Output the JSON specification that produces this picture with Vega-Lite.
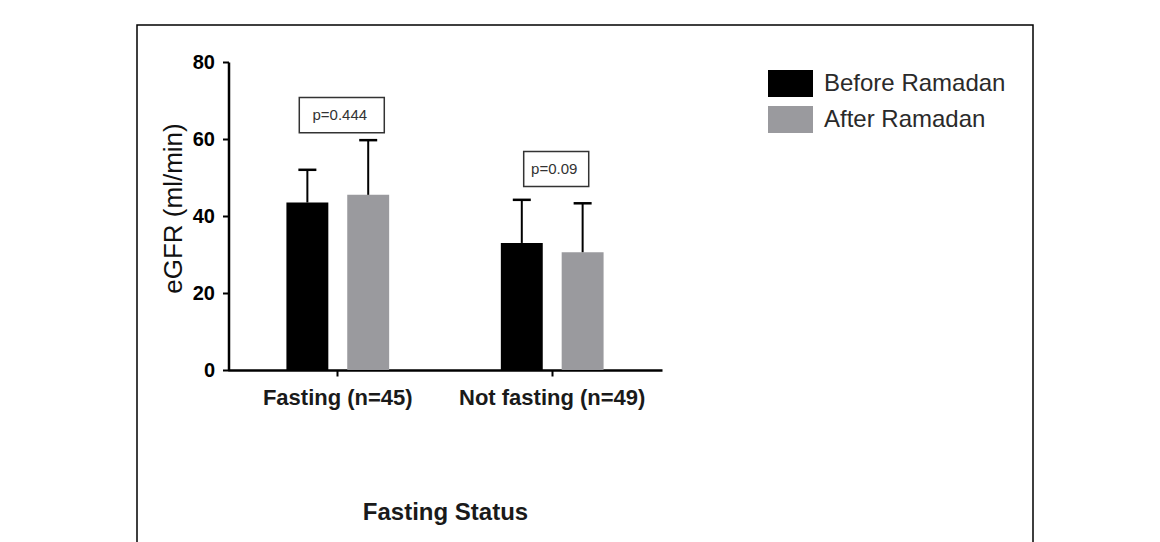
{
  "$schema": "https://vega.github.io/schema/vega-lite/v6.json",
  "autosize": "none",
  "padding": {"left": 137, "top": 25, "right": 127, "bottom": -4},
  "width": 896,
  "height": 521,
  "background": "white",
  "datasets": {
    "bars": [
      {"status": "Fasting (n=45)", "period": "Before Ramadan", "mean": 43.5, "upper": 52.0},
      {"status": "Fasting (n=45)", "period": "After Ramadan", "mean": 45.5, "upper": 59.7},
      {"status": "Not fasting (n=49)", "period": "Before Ramadan", "mean": 33.0, "upper": 44.2},
      {"status": "Not fasting (n=49)", "period": "After Ramadan", "mean": 30.6, "upper": 43.3}
    ],
    "pvals": [
      {"status": "Fasting (n=45)", "y": 66.2, "label": "p=0.444"},
      {"status": "Not fasting (n=49)", "y": 52.2, "label": "p=0.09"}
    ]
  },
  "encoding": {
    "x": {
      "field": "status",
      "type": "nominal",
      "sort": ["Fasting (n=45)", "Not fasting (n=49)"],
      "scale": {"range": [91, 525], "paddingInner": 0, "paddingOuter": 0.012},
      "axis": {
        "orient": "bottom",
        "offset": -176,
        "title": "Fasting Status",
        "labelAngle": 0,
        "labelLimit": 400,
        "labelFont": "Liberation Sans",
        "labelFontWeight": "bold",
        "labelFontSize": 22,
        "labelColor": "#1a1a1a",
        "labelPadding": 11,
        "tickSize": 6,
        "tickWidth": 2,
        "tickColor": "black",
        "domainColor": "black",
        "domainWidth": 2.5,
        "titleFont": "Liberation Sans",
        "titleFontWeight": "bold",
        "titleFontSize": 24,
        "titleColor": "#1a1a1a",
        "titleBaseline": "middle",
        "titleY": 142,
        "grid": false
      }
    }
  },
  "layer": [
    {
      "data": {"name": "bars"},
      "mark": {"type": "bar"},
      "encoding": {
        "xOffset": {
          "field": "period",
          "type": "nominal",
          "sort": ["Before Ramadan", "After Ramadan"],
          "scale": {"paddingInner": 0.311, "paddingOuter": 0.918}
        },
        "y": {
          "field": "mean",
          "type": "quantitative",
          "scale": {"domain": [0, 80], "range": [345, 37], "nice": false, "zero": true},
          "axis": {
            "values": [0, 20, 40, 60, 80],
            "offset": -91.5,
            "title": "eGFR (ml/min)",
            "labelFont": "Liberation Sans",
            "labelFontWeight": "bold",
            "labelFontSize": 20,
            "labelColor": "black",
            "labelPadding": 8,
            "tickSize": 6,
            "tickWidth": 2,
            "tickColor": "black",
            "domainColor": "black",
            "domainWidth": 2.5,
            "titleFont": "Liberation Sans",
            "titleFontWeight": "normal",
            "titleFontSize": 26,
            "titleColor": "#111111",
            "titlePadding": 6,
            "titleY": 183,
            "grid": false
          }
        },
        "color": {
          "field": "period",
          "type": "nominal",
          "sort": ["Before Ramadan", "After Ramadan"],
          "scale": {"domain": ["Before Ramadan", "After Ramadan"], "range": ["#000000", "#9a9a9e"]},
          "legend": {
            "title": null,
            "orient": "none",
            "legendX": 631,
            "legendY": 36,
            "padding": 0,
            "symbolType": "M-1,-0.6H1V0.6H-1Z",
            "symbolSize": 2025,
            "symbolStrokeWidth": 0,
            "symbolOpacity": 1,
            "labelFont": "Liberation Sans",
            "labelFontSize": 24,
            "labelColor": "#2a2a2a",
            "labelOffset": 11,
            "rowPadding": 0,
            "labelLimit": 400
          }
        }
      }
    },
    {
      "data": {"name": "bars"},
      "mark": {"type": "rule", "color": "black", "strokeWidth": 2},
      "encoding": {
        "xOffset": {"field": "period", "type": "nominal", "sort": ["Before Ramadan", "After Ramadan"]},
        "y": {"field": "mean", "type": "quantitative"},
        "y2": {"field": "upper"}
      }
    },
    {
      "data": {"name": "bars"},
      "mark": {"type": "tick", "color": "black", "orient": "horizontal", "size": 18, "thickness": 2.5, "opacity": 1},
      "encoding": {
        "xOffset": {"field": "period", "type": "nominal", "sort": ["Before Ramadan", "After Ramadan"]},
        "y": {"field": "upper", "type": "quantitative"}
      }
    },
    {
      "data": {"name": "pvals"},
      "mark": {"type": "point", "filled": false, "fill": "white", "fillOpacity": 1, "stroke": "#333333", "strokeWidth": 1.5, "opacity": 1, "size": 7225},
      "encoding": {
        "y": {"field": "y", "type": "quantitative"},
        "shape": {
          "field": "label",
          "type": "nominal",
          "scale": {
            "domain": ["p=0.444", "p=0.09"],
            "range": ["M-0.906,-0.416H1.094V0.416H-0.906Z", "M-0.671,-0.412H0.859V0.412H-0.671Z"]
          },
          "legend": null
        }
      }
    },
    {
      "data": {"name": "pvals"},
      "mark": {"type": "text", "font": "Liberation Sans", "fontSize": 15, "color": "#333333", "dx": 2, "baseline": "middle", "align": "center"},
      "encoding": {
        "y": {"field": "y", "type": "quantitative"},
        "text": {"field": "label"}
      }
    }
  ],
  "resolve": {"scale": {"xOffset": "shared"}},
  "config": {
    "view": {"stroke": "black", "strokeWidth": 1.5},
    "axis": {"grid": false}
  }
}
